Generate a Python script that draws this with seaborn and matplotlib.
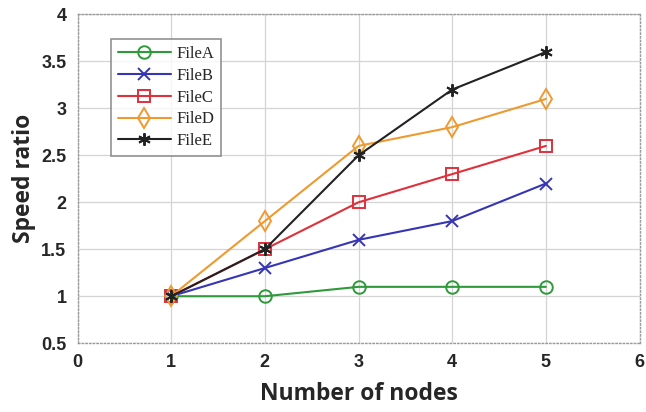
import numpy as np
import pandas as pd
import matplotlib
matplotlib.use("Agg")
import matplotlib.pyplot as plt
import seaborn as sns

# values
nodes = [1, 2, 3, 4, 5]
file_a = [1.0, 1.0, 1.1, 1.1, 1.1]
file_b = [1.0, 1.3, 1.6, 1.8, 2.2]
file_c = [1.0, 1.5, 2.0, 2.3, 2.6]
file_d = [1.0, 1.8, 2.6, 2.8, 3.1]
file_e = [1.0, 1.5, 2.5, 3.2, 3.6]
names = ["FileA", "FileB", "FileC", "FileD", "FileE"]

df = pd.DataFrame({
    "nodes": nodes * 5,
    "ratio": file_a + file_b + file_c + file_d + file_e,
    "file": [n for n in names for _ in nodes],
})

colors = ["#2e9a3a", "#3535b5", "#e0303c", "#ee9a30", "#222222"]
markers = ["o", "x", "s", "d", (6, 2, 0)]
palette = dict(zip(names, colors))

sns.set_style("white")
fig, ax = plt.subplots(figsize=(6.46, 4.12), dpi=100)
fig.subplots_adjust(left=0.12, right=0.99, top=0.965, bottom=0.167)

sns.lineplot(data=df, x="nodes", y="ratio", hue="file", palette=palette,
             hue_order=names, linewidth=1.5, legend=False, ax=ax)

for line, name, c, m in zip(ax.lines, names, colors, markers):
    line.set_label(name)
    line.set_marker(m)
    line.set_markersize(9 if m != "d" else 10)
    line.set_markerfacecolor("none")
    line.set_markeredgecolor(c)
    line.set_markeredgewidth(1.4)

ax.set_xlim(0, 6)
ax.set_ylim(0.5, 4)
ax.set_xticks(range(0, 7))
ax.set_yticks(np.arange(0.5, 4.01, 0.5))
ax.set_yticklabels(["0.5", "1", "1.5", "2", "2.5", "3", "3.5", "4"])
ax.grid(True, color="#d4d4d4", linewidth=0.9)
for s in ax.spines.values():
    s.set_color("#999999")
    s.set_linestyle(":")
    s.set_linewidth(1)
ax.tick_params(direction="in", length=4, color="#999999", pad=8)
for lab in ax.get_xticklabels() + ax.get_yticklabels():
    lab.set_fontfamily("Liberation Sans")
    lab.set_fontweight("bold")
    lab.set_fontsize(13)

ax.set_xlabel("Number of nodes", fontsize=16.5, fontweight="bold",
              fontfamily="Open Sans", labelpad=8)
ax.set_ylabel("Speed ratio", fontsize=16.5, fontweight="bold",
              fontfamily="Open Sans", labelpad=4)

leg = ax.legend(loc="upper left", bbox_to_anchor=(0.045, 0.95),
                prop={"family": "Liberation Serif", "size": 12},
                frameon=True, fancybox=False, borderpad=0.4,
                handlelength=3.2, labelspacing=0.35, handletextpad=0.3)
leg.get_frame().set_edgecolor("#777777")
leg.get_frame().set_linewidth(1.2)

fig.savefig("out.png", dpi=100)
